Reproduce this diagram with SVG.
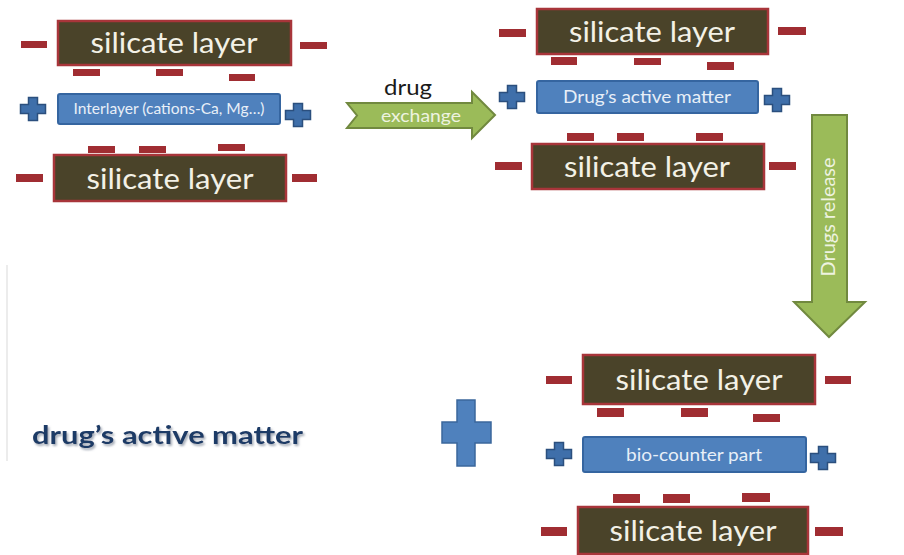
<svg xmlns="http://www.w3.org/2000/svg" width="904" height="555" viewBox="0 0 904 555">
<defs>
<style>
.sil{fill:#4a4329;stroke:#a8353a;stroke-width:2.5}
.silt{fill:#f3f1e6;font-family:Lato,"Liberation Sans",sans-serif;font-size:28px;text-anchor:middle}
.neg{fill:#a02d32}
.blu{fill:#4f81bd;stroke:#3565a0;stroke-width:2}
.blut{fill:#e8eff8;font-family:Lato,"Liberation Sans",sans-serif;text-anchor:middle}
.pl{fill:#3f6faa;stroke:#2b4f7e;stroke-width:1.5}
.arr{fill:#9bbb59;stroke:#71893f;stroke-width:2}
</style>
<path id="plus" d="M-4.5,-11.5H4.5V-4.5H12.5V4.5H4.5V11.5H-4.5V4.5H-12.5V-4.5H-4.5Z"/>
<filter id="sh" x="-5%" y="-20%" width="110%" height="150%">
<feDropShadow dx="1.5" dy="2" stdDeviation="1.2" flood-color="#7a8595" flood-opacity="0.7"/>
</filter>
</defs>
<rect width="904" height="555" fill="#ffffff"/>
<line x1="7" y1="265" x2="7" y2="461" stroke="#e6e6e6" stroke-width="1.5"/>

<g id="stack1">
<rect class="sil" x="58" y="21" width="233" height="44"/>
<text class="silt" x="174" y="53" textLength="167" lengthAdjust="spacingAndGlyphs">silicate layer</text>
<rect class="neg" x="21" y="41" width="26" height="7"/>
<rect class="neg" x="300" y="42" width="27" height="7"/>
<rect class="neg" x="73" y="69" width="27" height="7"/>
<rect class="neg" x="156" y="69" width="27" height="7"/>
<rect class="neg" x="229" y="74" width="26" height="7"/>
<rect class="blu" x="58" y="94" width="222" height="30" rx="2"/>
<text class="blut" x="169" y="114" font-size="15" textLength="191" lengthAdjust="spacingAndGlyphs">Interlayer (cations-Ca, Mg…)</text>
<use href="#plus" class="pl" x="33" y="109"/>
<use href="#plus" class="pl" x="298" y="115"/>
<rect class="neg" x="88" y="146" width="27" height="7"/>
<rect class="neg" x="139" y="146" width="27" height="7"/>
<rect class="neg" x="218" y="144" width="27" height="7"/>
<rect class="sil" x="54" y="155" width="232" height="46"/>
<text class="silt" x="170" y="189" textLength="167" lengthAdjust="spacingAndGlyphs">silicate layer</text>
<rect class="neg" x="16" y="174" width="27" height="8"/>
<rect class="neg" x="292" y="174" width="25" height="8"/>
</g>

<g id="stack2">
<rect class="sil" x="537" y="9" width="231" height="45"/>
<text class="silt" x="652" y="42" textLength="166" lengthAdjust="spacingAndGlyphs">silicate layer</text>
<rect class="neg" x="499" y="29" width="27" height="8"/>
<rect class="neg" x="778" y="27" width="28" height="8"/>
<rect class="neg" x="551" y="57" width="26" height="8"/>
<rect class="neg" x="634" y="58" width="27" height="7"/>
<rect class="neg" x="707" y="62" width="27" height="8"/>
<rect class="blu" x="537" y="81" width="221" height="32" rx="2"/>
<text class="blut" x="647" y="103" font-size="17" textLength="168" lengthAdjust="spacingAndGlyphs">Drug’s active matter</text>
<use href="#plus" class="pl" x="512" y="97"/>
<use href="#plus" class="pl" x="777" y="100"/>
<rect class="neg" x="567" y="133" width="27" height="8"/>
<rect class="neg" x="617" y="133" width="27" height="8"/>
<rect class="neg" x="696" y="133" width="27" height="8"/>
<rect class="sil" x="532" y="144" width="232" height="45"/>
<text class="silt" x="647" y="177" textLength="166" lengthAdjust="spacingAndGlyphs">silicate layer</text>
<rect class="neg" x="495" y="162" width="27" height="8"/>
<rect class="neg" x="769" y="162" width="27" height="8"/>
</g>

<g id="stack3">
<rect class="sil" x="583" y="355" width="232" height="49"/>
<text class="silt" x="699" y="390" textLength="167" lengthAdjust="spacingAndGlyphs">silicate layer</text>
<rect class="neg" x="546" y="376" width="26" height="8"/>
<rect class="neg" x="825" y="376" width="26" height="8"/>
<rect class="neg" x="597" y="408" width="27" height="9"/>
<rect class="neg" x="681" y="408" width="27" height="9"/>
<rect class="neg" x="753" y="414" width="27" height="8"/>
<rect class="blu" x="583" y="437" width="223" height="35" rx="2"/>
<text class="blut" x="694" y="461" font-size="17" textLength="136" lengthAdjust="spacingAndGlyphs">bio-counter part</text>
<use href="#plus" class="pl" x="559" y="454"/>
<use href="#plus" class="pl" x="823" y="458"/>
<rect class="neg" x="613" y="494" width="27" height="9"/>
<rect class="neg" x="663" y="494" width="27" height="9"/>
<rect class="neg" x="742" y="493" width="28" height="9"/>
<rect class="sil" x="578" y="507" width="230" height="47"/>
<text class="silt" x="693" y="541" textLength="167" lengthAdjust="spacingAndGlyphs">silicate layer</text>
<rect class="neg" x="541" y="527" width="26" height="9"/>
<rect class="neg" x="815" y="527" width="28" height="9"/>
</g>

<g id="drug-active-matter">
<text x="32" y="444" font-family="Lato,'Liberation Sans',sans-serif" font-weight="bold" font-size="25" fill="#1f3b66" filter="url(#sh)" textLength="271" lengthAdjust="spacingAndGlyphs">drug’s active matter</text>
</g>

<g id="big-plus">
<path d="M457,400H475V422H491V443H475V466H457V443H442V422H457Z" fill="#4f81bd" stroke="#3b679c" stroke-width="1.5"/>
</g>

<g id="connectors">
<g id="drug-exchange">
<polygon class="arr" points="347,103 472,103 472,92 495,115 472,138 472,128 347,128 357,115.5"/>
<text x="408" y="95" font-family="Lato,'Liberation Sans',sans-serif" font-size="22" fill="#1a1a1a" text-anchor="middle" textLength="48" lengthAdjust="spacingAndGlyphs">drug</text>
<text x="421" y="122" font-family="Lato,'Liberation Sans',sans-serif" font-size="18" fill="#eef3e0" text-anchor="middle" textLength="80" lengthAdjust="spacingAndGlyphs">exchange</text>
</g>
<g id="drugs-release">
<polygon class="arr" points="812,115 847,115 847,302 865,302 829,337 794,302 812,302"/>
<text transform="translate(835,217) rotate(-90)" font-family="Lato,'Liberation Sans',sans-serif" font-size="19" fill="#eef3e0" text-anchor="middle" textLength="119" lengthAdjust="spacingAndGlyphs">Drugs release</text>
</g>
</g>
</svg>
